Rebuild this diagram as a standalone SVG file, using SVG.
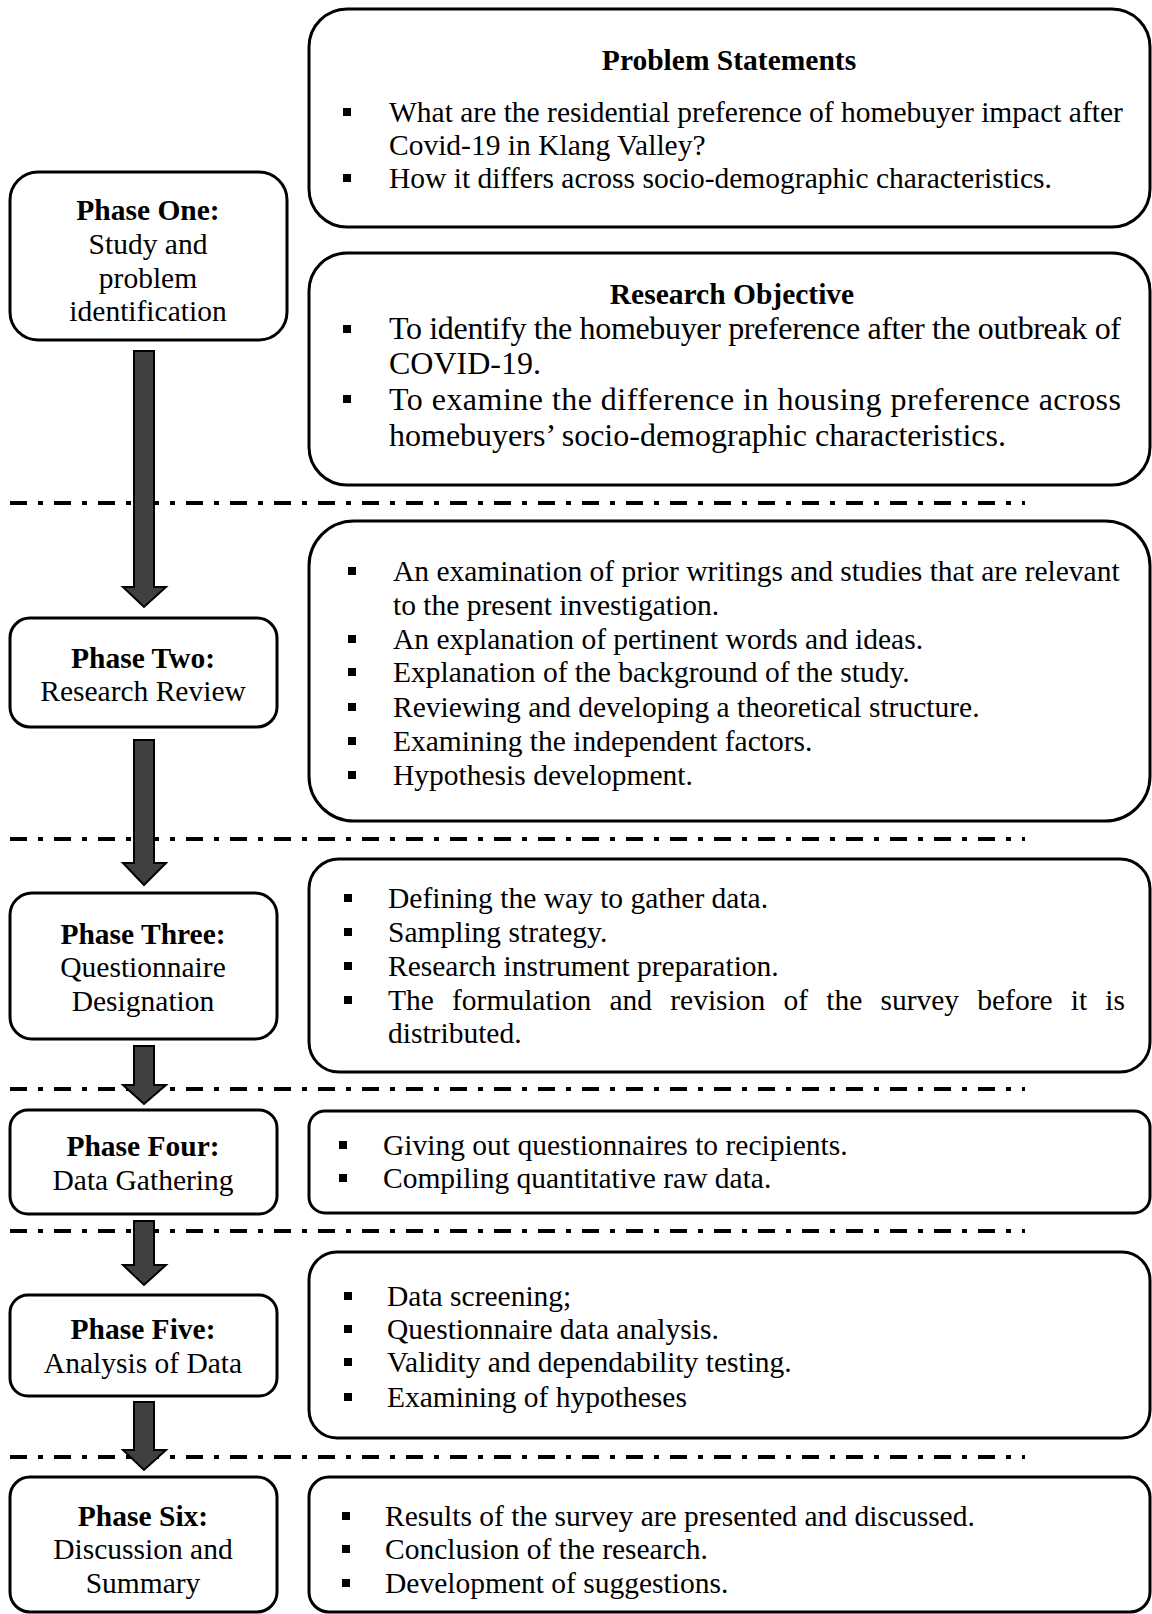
<svg xmlns="http://www.w3.org/2000/svg" width="1152" height="1614" viewBox="0 0 1152 1614">
<style>
.box{fill:#fff;stroke:#000;stroke-width:3}
.t{font-family:"Liberation Serif","Times New Roman",serif;font-size:29.5px;fill:#000}
.big{font-size:32px}
.b{font-weight:bold}
.c{text-anchor:middle}
.dash{stroke:#000;stroke-width:4;stroke-dasharray:17 11 5 11;fill:none}
.arrow{fill:#404040;stroke:#000;stroke-width:2;stroke-linejoin:miter}
.blt{fill:#000}
</style>
<defs>
<rect id="sq" width="8" height="8" class="blt"/>
</defs>

<g id="separators">
<line class="dash" x1="10" y1="503" x2="1025" y2="503"/>
<line class="dash" x1="10" y1="839" x2="1025" y2="839"/>
<line class="dash" x1="10" y1="1089" x2="1025" y2="1089"/>
<line class="dash" x1="10" y1="1231" x2="1025" y2="1231"/>
<line class="dash" x1="10" y1="1457" x2="1025" y2="1457"/>
</g>

<g id="phase1">
<rect class="box" x="10" y="172" width="277" height="168" rx="28"/>
<text class="t b c" x="148" y="220">Phase One:</text>
<text class="t c" x="148" y="254">Study and</text>
<text class="t c" x="148" y="288">problem</text>
<text class="t c" x="148" y="321">identification</text>
</g>

<g id="problem-statements">
<rect class="box" x="309" y="9" width="841" height="218" rx="38"/>
<text class="t b c" x="729" y="70">Problem Statements</text>
<use href="#sq" x="343" y="108"/>
<text class="t" x="389" y="122">What are the residential preference of homebuyer impact after</text>
<text class="t" x="389" y="155">Covid-19 in Klang Valley?</text>
<use href="#sq" x="343" y="174"/>
<text class="t" x="389" y="188">How it differs across socio-demographic characteristics.</text>
</g>

<g id="research-objective">
<rect class="box" x="309" y="253" width="841" height="232" rx="38"/>
<text class="t b c" x="732" y="304">Research Objective</text>
<use href="#sq" x="343" y="325"/>
<text class="t big" x="389" y="339" textLength="732" lengthAdjust="spacing">To identify the homebuyer preference after the outbreak of</text>
<text class="t big" x="389" y="374">COVID-19.</text>
<use href="#sq" x="343" y="395"/>
<text class="t big" x="389" y="410" textLength="732" lengthAdjust="spacing">To examine the difference in housing preference across</text>
<text class="t big" x="389" y="446">homebuyers’ socio-demographic characteristics.</text>
</g>

<g id="phase2">
<rect class="box" x="10" y="618" width="267" height="109" rx="20"/>
<text class="t b c" x="143" y="668">Phase Two:</text>
<text class="t c" x="143" y="701">Research Review</text>
</g>

<g id="review-content">
<rect class="box" x="309" y="521" width="841" height="300" rx="45"/>
<use href="#sq" x="348" y="567"/>
<text class="t" x="393" y="581">An examination of prior writings and studies that are relevant</text>
<text class="t" x="393" y="615">to the present investigation.</text>
<use href="#sq" x="348" y="635"/>
<text class="t" x="393" y="649">An explanation of pertinent words and ideas.</text>
<use href="#sq" x="348" y="668"/>
<text class="t" x="393" y="682">Explanation of the background of the study.</text>
<use href="#sq" x="348" y="703"/>
<text class="t" x="393" y="717">Reviewing and developing a theoretical structure.</text>
<use href="#sq" x="348" y="737"/>
<text class="t" x="393" y="751">Examining the independent factors.</text>
<use href="#sq" x="348" y="771"/>
<text class="t" x="393" y="785">Hypothesis development.</text>
</g>

<g id="phase3">
<rect class="box" x="10" y="893" width="267" height="146" rx="22"/>
<text class="t b c" x="143" y="944">Phase Three:</text>
<text class="t c" x="143" y="977">Questionnaire</text>
<text class="t c" x="143" y="1011">Designation</text>
</g>

<g id="questionnaire-content">
<rect class="box" x="309" y="859" width="841" height="213" rx="30"/>
<use href="#sq" x="344" y="894"/>
<text class="t" x="388" y="908">Defining the way to gather data.</text>
<use href="#sq" x="344" y="928"/>
<text class="t" x="388" y="942">Sampling strategy.</text>
<use href="#sq" x="344" y="962"/>
<text class="t" x="388" y="976">Research instrument preparation.</text>
<use href="#sq" x="344" y="996"/>
<text class="t" x="388" y="1010" word-spacing="10.8">The formulation and revision of the survey before it is</text>
<text class="t" x="388" y="1043">distributed.</text>
</g>

<g id="phase4">
<rect class="box" x="10" y="1110" width="267" height="104" rx="18"/>
<text class="t b c" x="143" y="1156">Phase Four:</text>
<text class="t c" x="143" y="1190">Data Gathering</text>
</g>

<g id="gathering-content">
<rect class="box" x="309" y="1111" width="841" height="102" rx="16"/>
<use href="#sq" x="339" y="1141"/>
<text class="t" x="383" y="1155">Giving out questionnaires to recipients.</text>
<use href="#sq" x="339" y="1174"/>
<text class="t" x="383" y="1188">Compiling quantitative raw data.</text>
</g>

<g id="phase5">
<rect class="box" x="10" y="1295" width="267" height="101" rx="18"/>
<text class="t b c" x="143" y="1339">Phase Five:</text>
<text class="t c" x="143" y="1373">Analysis of Data</text>
</g>

<g id="analysis-content">
<rect class="box" x="309" y="1252" width="841" height="186" rx="28"/>
<use href="#sq" x="344" y="1292"/>
<text class="t" x="387" y="1306">Data screening;</text>
<use href="#sq" x="344" y="1325"/>
<text class="t" x="387" y="1339">Questionnaire data analysis.</text>
<use href="#sq" x="344" y="1358"/>
<text class="t" x="387" y="1372">Validity and dependability testing.</text>
<use href="#sq" x="344" y="1393"/>
<text class="t" x="387" y="1407">Examining of hypotheses</text>
</g>

<g id="phase6">
<rect class="box" x="10" y="1477" width="267" height="135" rx="20"/>
<text class="t b c" x="143" y="1526">Phase Six:</text>
<text class="t c" x="143" y="1559">Discussion and</text>
<text class="t c" x="143" y="1593">Summary</text>
</g>

<g id="discussion-content">
<rect class="box" x="309" y="1477" width="841" height="135" rx="20"/>
<use href="#sq" x="342" y="1512"/>
<text class="t" x="385" y="1526">Results of the survey are presented and discussed.</text>
<use href="#sq" x="342" y="1545"/>
<text class="t" x="385" y="1559">Conclusion of the research.</text>
<use href="#sq" x="342" y="1579"/>
<text class="t" x="385" y="1593">Development of suggestions.</text>
</g>

<g id="connectors">
<polygon class="arrow" points="134,351 154,351 154,587 166,587 144,607 123,587 134,587"/>
<polygon class="arrow" points="134,740 154,740 154,863 166,863 144,885 123,863 134,863"/>
<polygon class="arrow" points="134,1046 154,1046 154,1085 166,1085 144,1104 123,1085 134,1085"/>
<polygon class="arrow" points="134,1221 154,1221 154,1265 166,1265 144,1285 123,1265 134,1265"/>
<polygon class="arrow" points="134,1402 154,1402 154,1450 166,1450 144,1470 123,1450 134,1450"/>
</g>
</svg>
